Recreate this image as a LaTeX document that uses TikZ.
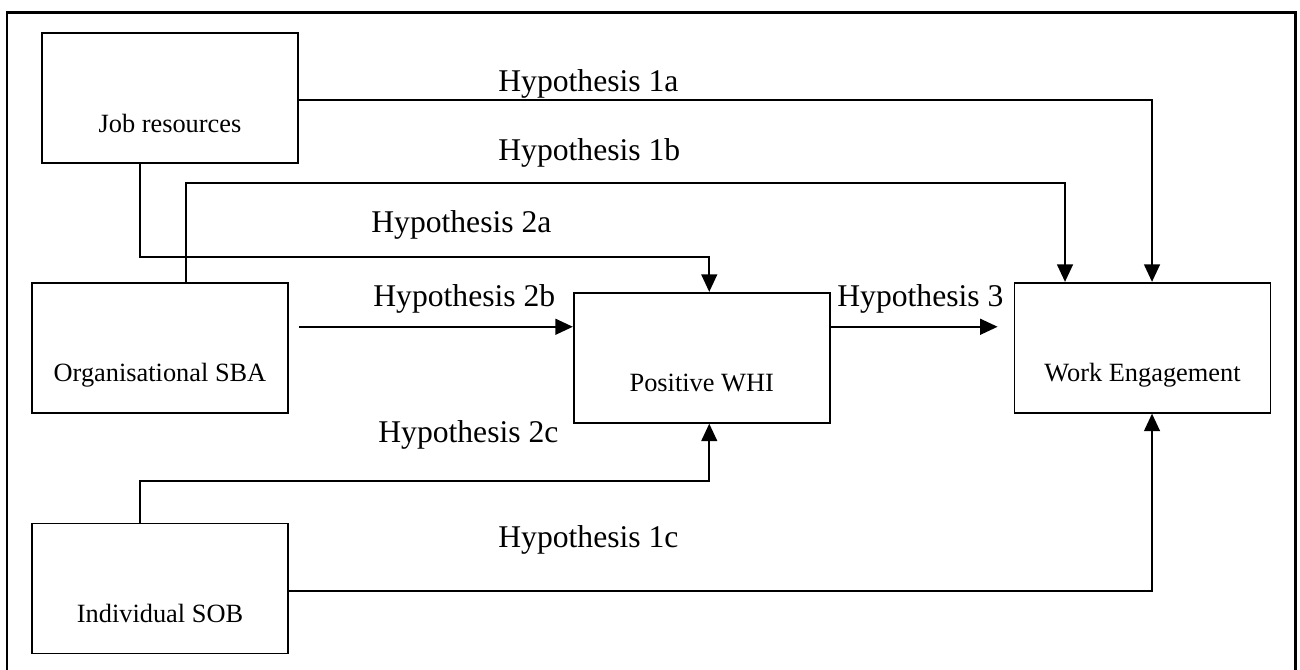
\documentclass[tikz,border=0pt]{standalone}
\usepackage{fontspec}
\setmainfont{Liberation Serif}
\usetikzlibrary{positioning,arrows.meta}

\begin{document}
\begin{tikzpicture}[
  box/.style={rectangle, draw, line width=1pt, minimum width=5.12cm,
              inner sep=0pt, text height=1.98cm, text depth=0.62cm,
              align=center, font=\fontsize{15}{18}\selectfont},
  hyp/.style={anchor=base west, inner sep=0pt, font=\fontsize{18}{22}\selectfont},
  arr/.style={-{Triangle[length=10pt,width=9pt]}, line width=1.2pt}
]
\useasboundingbox (0,0) rectangle (26,-13.38);
\draw[line width=1.7pt] (0.14,-14) -- (0.14,-0.24) -- (25.9,-0.24) -- (25.9,-14);

\node[box] (job) at (3.4,-1.96) {Job resources};
\node[box, below=2.36cm of job, xshift=-0.2cm] (org) {Organisational SBA};
\node[box, below=2.18cm of org] (sob) {Individual SOB};
\node[box, right=5.68cm of org, yshift=-0.2cm] (whi) {Positive WHI};
\node[box, right=3.66cm of whi, yshift=0.2cm] (we) {Work Engagement};

\node[hyp] (h1a) at (9.96,-1.82) {Hypothesis 1a};
\node[hyp] (h1b) at (9.96,-3.20) {Hypothesis 1b};
\node[hyp] (h2a) at (7.42,-4.64) {Hypothesis 2a};
\node[hyp] (h2b) at (7.46,-6.12) {Hypothesis 2b};
\node[hyp] (h3) at (16.74,-6.12) {Hypothesis 3};
\node[hyp] (h2c) at (7.56,-8.84) {Hypothesis 2c};
\node[hyp] (h1c) at (9.96,-10.94) {Hypothesis 1c};

\draw[arr] ([yshift=-0.04cm]job.east) -| ([xshift=0.19cm]we.north);
\draw[arr] ([xshift=0.52cm]org.north) -- ++(0,1.98) -| ([xshift=-1.55cm]we.north);
\draw[arr] ([xshift=-0.6cm]job.south) -- ++(0,-1.86) -| ([xshift=0.15cm]whi.north);
\draw[arr] ([xshift=0.2cm,yshift=0.42cm]org.east) -- ([yshift=0.62cm]whi.west);
\draw[arr] ([yshift=0.62cm]whi.east) -- ([xshift=-0.32cm,yshift=0.42cm]we.west);
\draw[arr] ([xshift=-0.4cm]sob.north) -- ++(0,0.84) -| ([xshift=0.15cm]whi.south);
\draw[arr] ([yshift=-0.05cm]sob.east) -| ([xshift=0.19cm]we.south);
\end{tikzpicture}
\end{document}
